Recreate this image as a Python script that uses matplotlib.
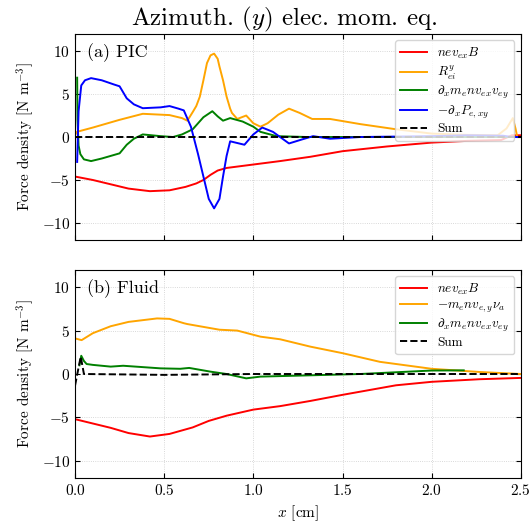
import matplotlib
matplotlib.use("Agg")
import matplotlib.pyplot as plt

plt.rcParams['font.family'] = 'serif'
plt.rcParams['font.serif'] = ['cmr10', 'DejaVu Serif']
plt.rcParams['mathtext.fontset'] = 'cm'
plt.rcParams['axes.formatter.use_mathtext'] = True
plt.rcParams['axes.unicode_minus'] = True

# (a) PIC
red_a_x = [0, 0.1, 0.2, 0.3, 0.42, 0.53, 0.62, 0.68, 0.72, 0.76, 0.80, 0.85, 1.0, 1.15, 1.32, 1.5, 1.75, 2.0, 2.2, 2.39, 2.45, 2.5]
red_a_y = [-4.6, -5.0, -5.5, -6.0, -6.3, -6.2, -5.8, -5.4, -5.0, -4.4, -3.9, -3.6, -3.2, -2.8, -2.3, -1.65, -1.1, -0.65, -0.45, -0.35, 0.2, 0.2]

orange_a_x = [0, 0.01, 0.1, 0.25, 0.38, 0.53, 0.6, 0.63, 0.66, 0.68, 0.70, 0.72, 0.74, 0.76, 0.78, 0.80, 0.81, 0.83, 0.85, 0.87,
              0.88, 0.91, 0.96, 1.0, 1.04, 1.08, 1.14, 1.2, 1.26, 1.33, 1.43, 1.6, 1.8, 2.0, 2.2, 2.37, 2.42, 2.455, 2.47, 2.48, 2.5]
orange_a_y = [0.2, 0.6, 1.1, 2.0, 2.7, 2.55, 2.2, 1.9, 2.9, 3.6, 4.7, 6.6, 8.6, 9.5, 9.7, 9.1, 8.2, 6.6, 4.7, 3.3,
              2.8, 2.1, 2.5, 1.6, 1.2, 1.6, 2.6, 3.3, 2.8, 2.1, 2.1, 1.5, 0.9, 0.4, 0.25, 0.2, 1.0, 2.2, 1.0, 0.0, 0.0]

green_a_x = [0.012, 0.014, 0.02, 0.03, 0.05, 0.09, 0.15, 0.25, 0.29, 0.33, 0.38, 0.43, 0.48, 0.55, 0.6, 0.66, 0.72, 0.77,
             0.80, 0.83, 0.87, 0.94, 1.0, 1.04, 1.13, 1.3, 1.6, 2.0, 2.4, 2.5]
green_a_y = [6.9, 2.0, -1.0, -2.0, -2.6, -2.8, -2.5, -1.9, -0.9, -0.2, 0.3, 0.2, 0.1, 0.0, 0.3, 0.9, 2.3, 3.0,
             2.4, 1.9, 2.2, 1.8, 1.2, 0.6, 0.1, 0.0, 0.0, 0.0, 0.0, 0.0]

blue_a_x = [0.012, 0.02, 0.035, 0.056, 0.09, 0.15, 0.22, 0.25, 0.29, 0.33, 0.38, 0.48, 0.53, 0.58, 0.61, 0.65, 0.69, 0.72,
            0.75, 0.78, 0.81, 0.83, 0.85, 0.87, 0.91, 0.95, 1.0, 1.05, 1.11, 1.2, 1.27, 1.335, 1.43, 1.6, 2.0, 2.2, 2.4, 2.45, 2.5]
blue_a_y = [-2.9, 3.0, 6.0, 6.6, 6.85, 6.6, 6.1, 5.9, 4.5, 3.8, 3.35, 3.45, 3.6, 3.3, 3.1, 1.2, -2.0, -4.6,
            -7.2, -8.3, -7.2, -4.6, -2.2, -0.5, -0.7, -0.9, 0.3, 1.1, 0.6, -0.75, -0.3, 0.1, -0.2, 0.0, 0.1, 0.2, 0.15, 0.0, 0.0]

sum_a_x = [0, 2.5]
sum_a_y = [0, 0]

# (b) Fluid
red_b_x = [0, 0.1, 0.2, 0.3, 0.42, 0.53, 0.66, 0.75, 0.85, 1.0, 1.15, 1.32, 1.5, 1.8, 2.0, 2.27, 2.5]
red_b_y = [-5.2, -5.7, -6.2, -6.8, -7.2, -6.9, -6.15, -5.4, -4.8, -4.1, -3.7, -3.1, -2.4, -1.3, -0.9, -0.6, -0.45]

orange_b_x = [0, 0.037, 0.1, 0.2, 0.3, 0.46, 0.53, 0.61, 0.63, 0.81, 0.91, 1.04, 1.15, 1.32, 1.5, 1.71, 2.0, 2.27, 2.5]
orange_b_y = [4.1, 3.9, 4.7, 5.5, 6.0, 6.4, 6.35, 5.85, 5.75, 5.1, 5.0, 4.3, 4.0, 3.15, 2.4, 1.4, 0.6, 0.23, 0.0]

green_b_x = [0.025, 0.035, 0.05, 0.065, 0.1, 0.2, 0.27, 0.48, 0.59, 0.64, 0.76, 0.85, 0.96, 1.04, 1.32, 1.6, 2.0, 2.18]
green_b_y = [1.0, 2.1, 1.5, 1.15, 1.05, 0.85, 0.95, 0.65, 0.6, 0.7, 0.27, 0.0, -0.5, -0.3, -0.15, 0.0, 0.4, 0.42]

sum_b_x = [0, 0.032, 0.05, 0.5, 1.0, 2.5]
sum_b_y = [-1.35, 2.0, 0.0, -0.1, 0.0, 0.0]

fig = plt.figure(figsize=(5.32, 5.29), dpi=100)
ax1 = fig.add_axes([0.141, 0.546, 0.838, 0.390])
ax2 = fig.add_axes([0.141, 0.096, 0.838, 0.394])

lw = 1.4
ax1.plot(red_a_x, red_a_y, color='red', lw=lw, label=r'$nev_{ex}B$')
ax1.plot(orange_a_x, orange_a_y, color='orange', lw=lw, label=r'$R_{ei}^y$')
ax1.plot(green_a_x, green_a_y, color='green', lw=lw, label=r'$\partial_x m_e n v_{ex} v_{ey}$')
ax1.plot(blue_a_x, blue_a_y, color='blue', lw=lw, label=r'$-\partial_x P_{e,xy}$')
ax1.plot(sum_a_x, sum_a_y, color='black', ls='--', lw=lw, label='Sum')

ax2.plot(red_b_x, red_b_y, color='red', lw=lw, label=r'$nev_{ex}B$')
ax2.plot(orange_b_x, orange_b_y, color='orange', lw=lw, label=r'$-m_e n v_{e,y}\nu_a$')
ax2.plot(green_b_x, green_b_y, color='green', lw=lw, label=r'$\partial_x m_e n v_{ex} v_{ey}$')
ax2.plot(sum_b_x, sum_b_y, color='black', ls='--', lw=lw, label='Sum')

for ax, tag in [(ax1, '(a) PIC'), (ax2, '(b) Fluid')]:
    ax.set_xlim(0, 2.5)
    ax.set_ylim(-12, 12)
    ax.set_yticks([-10, -5, 0, 5, 10])
    ax.set_xticks([0, 0.5, 1.0, 1.5, 2.0, 2.5])
    ax.grid(True, ls=':', lw=0.6, color='#cccccc')
    ax.tick_params(direction='in', top=True, right=True, labelsize=11)
    ax.set_ylabel(r'Force density [N m$^{-3}$]', fontsize=11)
    ax.text(0.027, 0.955, tag, transform=ax.transAxes, fontsize=13, va='top', ha='left')
    ax.legend(loc='upper right', fontsize=9.5, labelspacing=0.18)

ax1.tick_params(labelbottom=False)
ax1.set_title(r'Azimuth. ($y$) elec. mom. eq.', fontsize=18, pad=1, x=0.47)
ax2.set_xlabel(r'$x$ [cm]', fontsize=11)

fig.savefig('out.png', dpi=100)
